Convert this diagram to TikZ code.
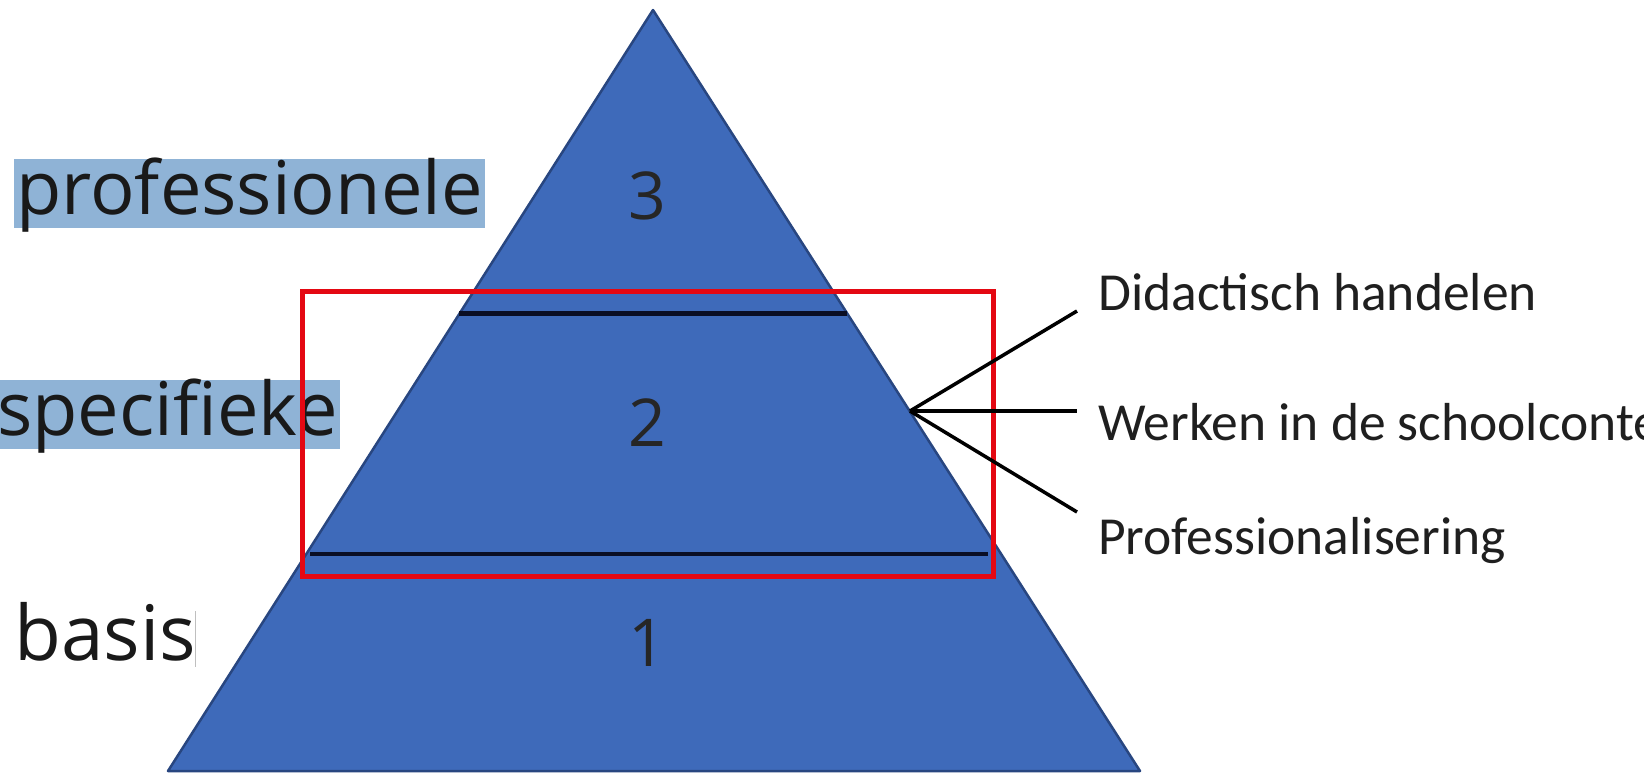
\documentclass[tikz,border=0pt]{standalone}
\usepackage{fontspec}
\setmainfont{Open Sans}
\newfontfamily\calib{Carlito}
\definecolor{triblue}{RGB}{62,106,186}
\definecolor{triedge}{RGB}{40,70,128}
\definecolor{hl}{RGB}{143,179,214}
\definecolor{boxred}{RGB}{228,8,18}
\definecolor{lvl}{RGB}{10,14,36}
\tikzset{
  tri/.style={fill=triblue, draw=triedge, line width=2.5pt, line join=round},
  levelline/.style={draw=lvl, line width=4.2pt},
  num/.style={inner sep=0pt, font=\fontsize{66}{72}\selectfont, text=black!85},
  lbl/.style={anchor=base west, inner xsep=2pt, inner ysep=0pt, font=\fontsize{74}{80}\selectfont, text=black!90},
  hlbox/.style={fill=hl, text height=55pt, text depth=14pt},
  rlbl/.style={anchor=base west, inner sep=0pt, font=\calib\fontsize{53.5}{60}\selectfont, text=black!88},
  conn/.style={draw=black, line width=3.5pt},
  redbox/.style={draw=boxred, line width=5pt},
  cursor/.style={draw=gray!50, line width=0.8pt}
}
\begin{document}
\begin{tikzpicture}[x=1pt,y=-1pt]
\useasboundingbox (0,0) rectangle (1644,774);
\clip (0,0) rectangle (1644,774);
\fill[white] (0,0) rectangle (1644,774);
% pyramid
\coordinate (apex) at (653,10);
\coordinate (bl) at (168,771);
\coordinate (br) at (1140,771);
\draw[tri] (apex) -- (br) -- (bl) -- cycle;
% level lines
\draw[levelline] (459,313.5) -- (847,313.5);
\draw[levelline] (310,553.6) -- (988,553.6);
% level numbers
\node[num] (n3) at (647,196) {3};
\node[num] (n2) at (647,423) {2};
\node[num] (n1) at (647,643) {1};
% left labels
\node[lbl, hlbox] (prof) at (14,214) {professionele};
\node[lbl, hlbox] (spec) at (-5,435) {specifieke};
\node[lbl, font=\fontsize{76.5}{80}\selectfont] (basis) at (12,660) {basis};
\draw[cursor] (195,611) -- (195,667);
% red focus box
\draw[redbox] (302,291.5) rectangle (993,576.7);
% connectors
\coordinate (j) at (910,411);
\coordinate (e1) at (1077,311);
\coordinate (e2) at (1077,411);
\coordinate (e3) at (1077,512);
\draw[conn] (j) -- (e1);
\draw[conn] (j) -- (e2);
\draw[conn] (j) -- (e3);
% right labels
\node[rlbl] (did) at (1098,310) {Didactisch handelen};
\node[rlbl] (werk) at (1098,440) {Werken in de schoolcontext};
\node[rlbl] (pro) at (1098,554) {Professionalisering};
\end{tikzpicture}
\end{document}
